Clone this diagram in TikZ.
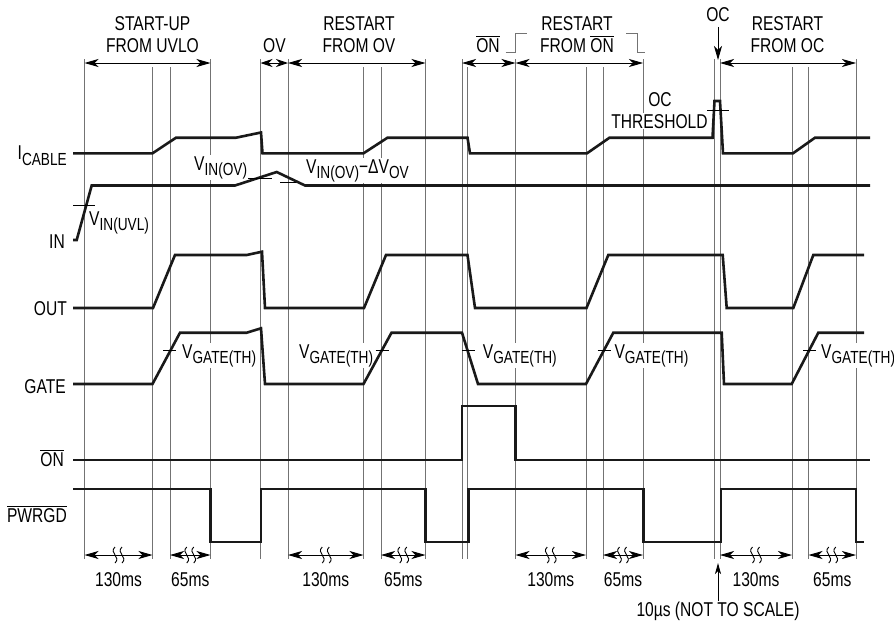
\documentclass[tikz,border=0pt]{standalone}
\usepackage{fontspec}
\setmainfont{Liberation Sans}[FakeStretch=0.78]
\usetikzlibrary{arrows.meta}
\tikzset{>={Stealth[length=14pt,width=8pt,inset=4pt]}}
\tikzstyle{trace} = [line width=2.6pt,
                     black!90]
\tikzstyle{guide} = [line width=0.9pt,
                     black!55]
\tikzstyle{span}  = [<->,
                     line width=0.9pt]
\tikzstyle{tick}  = [line width=0.9pt]
\tikzstyle{lbl}   = [inner sep=1pt,
                     font=\fontsize{20}{22}\selectfont]
\tikzstyle{hd}    = [lbl, anchor=base]
\tikzstyle{sig}   = [lbl, anchor=base east]
\tikzstyle{thr}   = [lbl, fill=white, anchor=base west]
\newcommand{\lsub}[1]{\raisebox{-5.5pt}{\fontsize{17.5}{17.5}\selectfont #1}}
\newcommand{\ovl}[1]{$\overline{\hbox{#1}}$}
\tikzset{brk/.pic={
  \draw[line width=0.9pt] (-3.5,-8) .. controls (-10,-2) and (3,2) .. (-3.5,8);
  \draw[line width=0.9pt] (3.5,-8) .. controls (-3,-2) and (10,2) .. (3.5,8);
}}

\begin{document}
\begin{tikzpicture}[x=1pt,y=-1pt]
  \useasboundingbox (0,0) rectangle (894,624);

  % Guides
  \foreach \x/\ya [count=\i] in {84.5/59,152.5/67,170/67,210.5/59,260.5/59,
      288/59,363.5/67,381/67,425.5/59,462/59,467.5/67,515.5/59,586/67,
      603/67,643/59,714/59,720/59,792/67,808.5/67,856/59}{
    \coordinate (t\i) at (\x,63);
    \coordinate (b\i) at (\x,555);
    \draw[guide] (\x,\ya) -- (\x,559);
  }

  % Headings
  \node[hd] (su1)  at (152.5,30.5) {START-UP};
  \node[hd] (su2)  at (152.5,52)   {FROM UVLO};
  \node[hd] (ov)   at (274.5,52)   {OV};
  \node[hd] (rov1) at (359,30.5)   {RESTART};
  \node[hd] (rov2) at (359,52)     {FROM OV};
  \node[hd] (hon)  at (488,52)     {\ovl{ON}};
  \node[hd] (ron1) at (577,30.5)   {RESTART};
  \node[hd] (ron2) at (577,52)     {FROM \ovl{ON}};
  \node[hd] (oc)   at (718,21.5)   {OC};
  \node[hd] (roc1) at (787.5,30.5) {RESTART};
  \node[hd] (roc2) at (787.5,52)   {FROM OC};
  \coordinate (octip) at (718,60);

  \draw[guide] (505.5,52) -- (515,52) -- (515,33.5) -- (526.5,33.5);
  \draw[guide] (626,33.5) -- (637,33.5) -- (637,52) -- (645,52);

  % Spans
  \draw[span] (t1) -- (t4);
  \draw[span, >={Stealth[length=12pt,width=8pt,inset=4pt]}] (t5) -- (t6);
  \draw[span] (t6) -- (t9);
  \draw[span] (t10) -- (t12);
  \draw[span] (t12) -- (t15);
  \draw[span] (t17) -- (t20);
  \draw[->, line width=0.9pt, shorten <=4pt] (oc) -- (octip);

  % Signal names
  \node[sig] (icable) at (68,159.5) {I\lsub{CABLE}};
  \node[sig] (vin)    at (66,248)   {IN};
  \node[sig] (vout)   at (68,315)   {OUT};
  \node[sig] (gate)   at (67,393)   {GATE};
  \node[sig] (onb)    at (65,466)   {\ovl{ON}};
  \node[sig] (pwrgd)  at (68,522)   {\ovl{PWRGD}};

  % Thresholds
  \node[thr] (vuvl) at (88,225)    {V\lsub{IN(UVL)}};
  \node[thr] (vov)  at (193,170)   {V\lsub{IN(OV)}};
  \node[thr] (vovh) at (305,173)   {V\lsub{IN(OV)}−ΔV\lsub{OV}};
  \node[thr] (vg1)  at (181,358)   {V\lsub{GATE(TH)}};
  \node[thr] (vg2)  at (298,358)   {V\lsub{GATE(TH)}};
  \node[thr] (vg3)  at (481.7,358) {V\lsub{GATE(TH)}};
  \node[thr] (vg4)  at (613.3,358) {V\lsub{GATE(TH)}};
  \node[thr] (vg5)  at (820,358)   {V\lsub{GATE(TH)}};
  \node[hd, fill=white] (oct1) at (660,106) {OC};
  \node[hd, fill=white] (oct2) at (659.5,128) {THRESHOLD};

  % Traces
  \draw[trace] (73,153.3) -- (152.5,153.3) -- (176,137.7) -- (236,137.7)
    -- (261,132.5) -- (262.5,153.3) -- (363.5,153.3) -- (387.5,137.7)
    -- (467.5,137.7) -- (470,153.3) -- (587,153.3) -- (609.5,137.7)
    -- (712.5,137.7) -- (714.5,101) -- (720,101) -- (723,153.3)
    -- (793,153.3) -- (815,137.7) -- (870,137.7);
  \draw[trace] (73,240) -- (76.7,240) -- (91.7,185.5) -- (235,185.5)
    -- (276.7,172) -- (305,185.5) -- (870,185.5);
  \draw[trace] (73,308) -- (153,308) -- (175,255) -- (246.7,255)
    -- (262,251.7) -- (265,308) -- (364,308) -- (386,255) -- (467.5,255)
    -- (475,308) -- (586.5,308) -- (608.3,255) -- (722.7,255)
    -- (726.7,308) -- (793.3,308) -- (813.3,255) -- (864,255);
  \draw[trace] (73,384) -- (152.5,384) -- (180,332.7) -- (246.7,332.7)
    -- (261,328.3) -- (265,384) -- (363.5,384) -- (391.5,332.7)
    -- (462,332.7) -- (478,384) -- (586,384) -- (613.3,332.7)
    -- (721.7,332.7) -- (724,384) -- (791.7,384) -- (818.3,332.7)
    -- (864,332.7);
  \draw[trace] (73,460) -- (462,460) -- (462,406) -- (515.5,406)
    -- (515.5,460) -- (870,460);
  \draw[trace] (73,489) -- (210.5,489) -- (210.5,542) -- (261,542)
    -- (261,489) -- (425.5,489) -- (425.5,542) -- (468.5,542)
    -- (468.5,489) -- (643.5,489) -- (643.5,542) -- (721,542)
    -- (721,489) -- (856,489) -- (856,542) -- (864,542);

  % Ticks
  \draw[tick] (73,205) -- (95,205);
  \draw[tick] (248,178) -- (272,178);
  \draw[tick] (280,182) -- (296,182);
  \draw[tick] (707,110) -- (729,110);
  \foreach \a in {163,375.5,462,597.5,803}
    \draw[tick] (\a,350) -- (\a+13,350);

  % Durations
  \foreach \a/\b/\t in {1/2/130ms,3/4/65ms,6/7/130ms,8/9/65ms,
      12/13/130ms,14/15/65ms,17/18/130ms,19/20/65ms}{
    \draw[span] (b\a) -- (b\b);
    \path (b\a) -- (b\b) pic[pos=.5] {brk}
      node[lbl, pos=.5, anchor=base, yshift=-31.7pt] (d\a) {\t};
  }
  \node[hd] (ten) at (718,616.7) {10µs (NOT TO SCALE)};
  \coordinate (tentip) at (718,563);
  \draw[->, >={Stealth[length=11pt,width=6pt,inset=3pt]}, line width=0.9pt]
    (ten) -- (tentip);

\end{tikzpicture}
\end{document}
